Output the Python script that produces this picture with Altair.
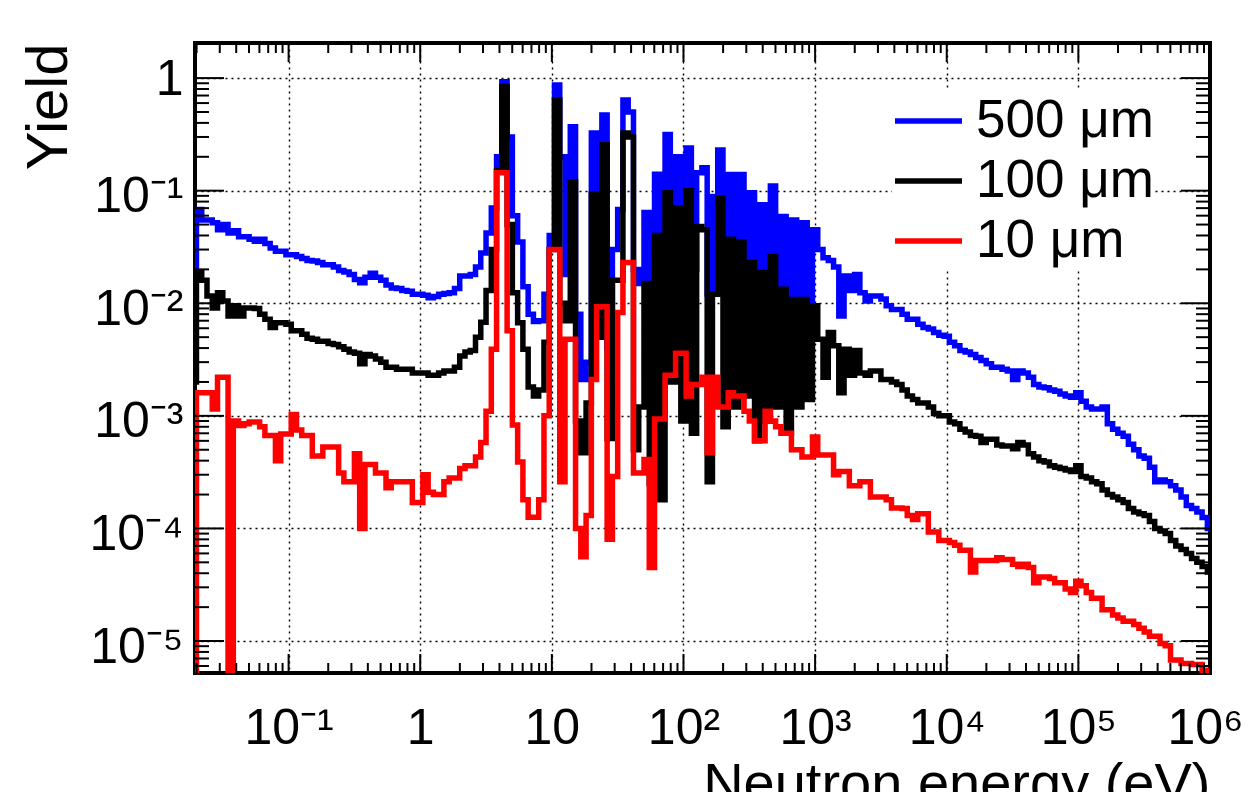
import json
import altair as alt
import pandas as pd

FONT = "Liberation Sans"

# ---- histogram binning (log10 of neutron energy in eV) ----
LOG10_E_FIRST_EDGE = -1.70
LOG10_E_BIN_WIDTH = 0.04
EMPTY = 1e-9  # empty bin, drawn down to the floor

# ---- axis ranges ----
X_MIN, X_MAX = 0.01945, 1e6
Y_MIN, Y_MAX = 5.2e-6, 2.05

series_names = ["500 μm", "100 μm", "10 μm"]
series_colors = ["#0000ff", "#000000", "#ff0000"]

# yield per bin (193 bins)
yield_500um = [
    0.068, 0.055, 0.055, 0.052, 0.045, 0.05, 0.042, 0.044, 0.039, 0.039,
    0.037, 0.0356, 0.037, 0.034, 0.031, 0.029, 0.029, 0.027, 0.027, 0.026,
    0.025, 0.024, 0.0237, 0.023, 0.022, 0.022, 0.021, 0.0195, 0.019, 0.018,
    0.0163, 0.0152, 0.017, 0.0185, 0.017, 0.016, 0.0145, 0.0137, 0.0135, 0.013,
    0.0128, 0.012, 0.012, 0.0118, 0.0112, 0.0115, 0.012, 0.0122, 0.0124, 0.0135,
    0.0175, 0.0175, 0.018, 0.021, 0.028, 0.042, 0.07, 0.2, 0.93, 0.3,
    0.06, 0.035, 0.014, 0.008, 0.0069, 0.007, 0.012, 0.04, 0.87, 0.2,
    0.018, 0.37, 0.008, 0.0021, 0.003, 0.325, 0.03, 0.47, 0.004, 0.03,
    0.068, 0.64, 0.5, 0.02, 0.015, 0.064, 0.005, 0.14, 0.009, 0.315,
    0.04, 0.2, 0.02, 0.24, 0.02, 0.144, 0.16, 0.012, 0.089, 0.23,
    0.015, 0.139, 0.02, 0.139, 0.015, 0.096, 0.012, 0.075, 0.012, 0.11,
    0.01, 0.059, 0.009, 0.055, 0.008, 0.052, 0.008, 0.045, 0.03, 0.0254,
    0.024, 0.021, 0.0077, 0.0175, 0.013, 0.018, 0.0124, 0.0105, 0.0116, 0.0116,
    0.0109, 0.0095, 0.0088, 0.0088, 0.008, 0.0072, 0.0072, 0.0065, 0.0061, 0.0059,
    0.0055, 0.0052, 0.0051, 0.0045, 0.0042, 0.0038, 0.0037, 0.0035, 0.0033, 0.0031,
    0.0029, 0.0027, 0.0027, 0.0026, 0.0025, 0.0021, 0.0025, 0.0024, 0.0022, 0.0019,
    0.0018, 0.00178, 0.0017, 0.00165, 0.00156, 0.0015, 0.00146, 0.0016, 0.00135, 0.0012,
    0.00115, 0.00115, 0.0012, 0.00085, 0.00076, 0.0007, 0.00066, 0.00056, 0.0005, 0.00044,
    0.00042, 0.00035, 0.00026, 0.00027, 0.00026, 0.00024, 0.00022, 0.00019, 0.00016, 0.00015,
    0.00014, 0.000125, 0.0001,
]

yield_100um = [
    0.019, 0.016, 0.0116, 0.0091, 0.0124, 0.0105, 0.0077, 0.0095, 0.0077, 0.0091,
    0.0091, 0.009, 0.008, 0.0072, 0.0061, 0.0067, 0.0067, 0.0065, 0.0057, 0.0057,
    0.0053, 0.0049, 0.0048, 0.0046, 0.0046, 0.0044, 0.0043, 0.0041, 0.0039, 0.0037,
    0.0036, 0.0029, 0.0035, 0.0034, 0.0032, 0.003, 0.0027, 0.0027, 0.0026, 0.0026,
    0.0026, 0.0024, 0.0024, 0.0024, 0.0023, 0.0023, 0.0024, 0.0025, 0.0025, 0.0027,
    0.0034, 0.0037, 0.0038, 0.005, 0.0068, 0.013, 0.03, 0.15, 0.84, 0.05,
    0.0124, 0.0067, 0.0039, 0.0018, 0.0015, 0.0017, 0.0045, 0.03, 0.64, 0.01,
    0.007, 0.12, 0.0009, 0.00047, 0.0013, 0.093, 0.005, 0.256, 0.00063, 0.016,
    0.016, 0.325, 0.3, 0.0005, 0.0012, 0.015, 0.00025, 0.04, 0.00018, 0.096,
    0.002, 0.07, 0.0009, 0.1, 0.0007, 0.048, 0.045, 0.00026, 0.012, 0.086,
    0.0008, 0.037, 0.0012, 0.035, 0.0015, 0.023, 0.0006, 0.0188, 0.0009, 0.026,
    0.0012, 0.0133, 0.0007, 0.0108, 0.0012, 0.0108, 0.0014, 0.0095, 0.0048, 0.0022,
    0.0055, 0.0042, 0.0016, 0.0039, 0.0023, 0.0038, 0.0024, 0.0023, 0.0025, 0.0025,
    0.0021, 0.0021, 0.002, 0.0019, 0.0017, 0.0015, 0.0014, 0.0013, 0.0013, 0.0012,
    0.00105, 0.001, 0.001, 0.00088, 0.00085, 0.00076, 0.00072, 0.00067, 0.00066, 0.00058,
    0.00062, 0.00062, 0.00055, 0.00054, 0.00054, 0.00051, 0.00058, 0.00055, 0.00046, 0.00043,
    0.0004, 0.00039, 0.00036, 0.00035, 0.00034, 0.00033, 0.00032, 0.00036, 0.00029, 0.00028,
    0.00026, 0.00025, 0.00022, 0.0002, 0.00019, 0.00018, 0.00017, 0.00015, 0.00014, 0.000135,
    0.00013, 0.000115, 0.0001, 0.000095, 0.00009, 0.000078, 0.00007, 0.000065, 0.00006, 0.000054,
    0.00005, 0.000046, 0.000041,
]

yield_10um = [
    0.0016, 0.0016, 0.0016, 0.00115, 0.0022, 0.0022, EMPTY, 0.0009, 0.00082, 0.00085,
    0.00088, 0.00088, 0.0008, 0.00067, 0.00067, 0.0004, 0.00069, 0.00069, 0.00103, 0.00075,
    0.00067, 0.00067, 0.00044, 0.00044, 0.00053, 0.00053, 0.00053, 0.00031, 0.00026, 0.00026,
    0.00046, 0.0001, 0.00037, 0.00037, 0.00031, 0.00031, 0.00023, 0.00026, 0.00026, 0.00026,
    0.00026, 0.00017, 0.00017, 0.0003, 0.00021, 0.0002, 0.0002, 0.00026, 0.00028, 0.00028,
    0.00034, 0.00036, 0.00036, 0.00043, 0.00058, 0.0011, 0.0039, 0.144, 0.144, 0.0057,
    0.00083, 0.00039, 0.00018, 0.000126, 0.000126, 0.00018, 0.001, 0.03, 0.03, 0.00026,
    0.0048, 0.0048, 0.0001, 0.000056, 0.00013, 0.0021, 0.0093, 0.0093, 0.00008, 0.00029,
    0.0083, 0.023, 0.023, 0.00031, 0.00031, 0.00041, 0.000045, 0.00094, 0.00094, 0.0023,
    0.0023, 0.0036, 0.0036, 0.0015, 0.0019, 0.0019, 0.0022, 0.00047, 0.0022, 0.0012,
    0.0012, 0.0016, 0.0015, 0.0015, 0.0011, 0.0009, 0.0006, 0.0006, 0.0011, 0.0009,
    0.0008, 0.0007, 0.0007, 0.0005, 0.0005, 0.00043, 0.00043, 0.00065, 0.00045, 0.00045,
    0.00045, 0.0003, 0.00032, 0.00032, 0.00024, 0.00024, 0.00026, 0.00026, 0.00019, 0.00019,
    0.00019, 0.00018, 0.000152, 0.000152, 0.00015, 0.00013, 0.00012, 0.000135, 0.000135, 0.000093,
    0.000093, 0.000078, 0.000078, 0.000075, 0.000071, 0.000064, 0.000064, 0.000041, 0.000052, 0.000052,
    0.000052, 0.000052, 0.000055, 0.000053, 0.000053, 0.000048, 0.000046, 0.000048, 0.000045, 0.000033,
    0.000037, 0.000037, 0.000036, 0.000033, 0.000033, 0.000029, 0.000027, 0.000034, 0.000031, 0.000027,
    0.000024, 0.000024, 0.000019, 0.000019, 0.000017, 0.000016, 0.000015, 0.000015, 0.000014, 0.000013,
    0.000012, 0.000011, 0.000011, 0.0000095, 0.0000091, 0.0000068, 0.0000068, 0.0000063, 0.0000063, 0.0000062,
    0.0000062, 0.0000055, 0.0000052,
]

# content of the partly visible bin just left of the frame
yield_first_partial = [0.021, 0.002, EMPTY]

# ---- axis ticks and labels ----
x_tick_values = [0.1, 1, 10, 100, 1e3, 1e4, 1e5, 1e6]
x_tick_labels = ["10⁻¹", "1", "10", "10²", "10³", "10⁴", "10⁵", "10⁶"]
y_tick_values = [1e-5, 1e-4, 1e-3, 1e-2, 1e-1, 1]
y_tick_labels = ["10⁻⁵", "10⁻⁴", "10⁻³", "10⁻²", "10⁻¹", "1"]
x_minor_ticks = [m * 10.0 ** d for d in range(-2, 6) for m in range(2, 10)]
x_minor_ticks = [v for v in x_minor_ticks if X_MIN < v < X_MAX]
y_minor_ticks = [m * 10.0 ** d for d in range(-6, 1) for m in range(2, 10)]
y_minor_ticks = [v for v in y_minor_ticks if Y_MIN < v < 1.9]

W, H = 1015, 630
LINE_W = 5.5

# ---- table ----
rows = []
for name, first, vals in zip(series_names, yield_first_partial,
                             [yield_500um, yield_100um, yield_10um]):
    rows.append({"series": name, "E": 10 ** (LOG10_E_FIRST_EDGE - LOG10_E_BIN_WIDTH), "Y": first})
    for i, v in enumerate(vals):
        rows.append({"series": name, "E": 10 ** (LOG10_E_FIRST_EDGE + i * LOG10_E_BIN_WIDTH), "Y": v})
    rows.append({"series": name, "E": 10 ** (LOG10_E_FIRST_EDGE + len(vals) * LOG10_E_BIN_WIDTH),
                 "Y": vals[-1]})
df = pd.DataFrame(rows)

xscale = alt.Scale(type="log", domain=[X_MIN, X_MAX], nice=False)
yscale = alt.Scale(type="log", domain=[Y_MIN, Y_MAX], nice=False)

x_expr = json.dumps(x_tick_labels, ensure_ascii=False) + "[round(log(datum.value)/LN10)+1]"
y_expr = json.dumps(y_tick_labels, ensure_ascii=False) + "[round(log(datum.value)/LN10)+5]"

common_axis = dict(
    grid=True, gridColor="black", gridDash=[2, 4], gridWidth=1.4, gridOpacity=1,
    ticks=False, tickSize=0, domain=False,
    labelFont=FONT, labelColor="black", labelOverlap=False,
    titleFont=FONT, titleFontWeight="normal", titleColor="black",
)
xaxis = alt.Axis(
    values=x_tick_values, labelExpr=x_expr, labelFontSize=50, labelPadding=30,
    labelBaseline="top", labelFlush=False,
    labelOffset={"condition": {"test": "datum.value > 500000", "value": -5}, "value": 0},
    title="Neutron energy (eV)", titleFontSize=56, titleX=W, titleY=128,
    titleAlign="right", titleBaseline="alphabetic", titleAngle=0,
    **common_axis,
)
yaxis = alt.Axis(
    values=y_tick_values, labelExpr=y_expr, labelFontSize=50, labelPadding=12,
    labelAlign="right", labelBaseline="middle",
    labelOffset={"condition": {"test": "datum.value > 0.5", "value": 1}, "value": 6},
    title="Yield", titleFontSize=58, titleX=-129, titleY=0, titleAngle=270,
    titleAlign="right", titleBaseline="alphabetic",
    **common_axis,
)

color = alt.Color(
    "series:N",
    scale=alt.Scale(domain=series_names, range=series_colors),
    legend=alt.Legend(
        orient="none", legendX=697, legendY=48, title=None,
        symbolType="stroke", symbolSize=4489, symbolStrokeWidth=LINE_W,
        labelFont=FONT, labelFontSize=53, labelColor="black", labelOffset=11,
        labelLimit=0, rowPadding=0, padding=0, fillColor="white", clipHeight=60,
    ),
)

layers = []
for name in series_names:
    layers.append(
        alt.Chart(df).transform_filter(alt.datum.series == name)
        .mark_line(interpolate="step-after", strokeWidth=LINE_W, clip=True)
        .encode(
            x=alt.X("E:Q", scale=xscale, axis=xaxis),
            y=alt.Y("Y:Q", scale=yscale, axis=yaxis),
            color=color,
        )
    )


def xticks(values, y0, y1):
    return alt.Chart(pd.DataFrame({"E": values})).mark_rule(color="black", strokeWidth=2).encode(
        x=alt.X("E:Q", scale=xscale, axis=xaxis), y=alt.value(y0), y2=alt.value(y1))


def yticks(values, x0, x1):
    return alt.Chart(pd.DataFrame({"Y": values})).mark_rule(color="black", strokeWidth=2).encode(
        y=alt.Y("Y:Q", scale=yscale, axis=yaxis), x=alt.value(x0), x2=alt.value(x1))


XMAJ, XMIN_LEN, YMAJ, YMIN_LEN = 19, 10, 29, 14
layers += [
    xticks(x_tick_values, H, H - XMAJ),
    xticks(x_minor_ticks, H, H - XMIN_LEN),
    xticks(x_tick_values, 0, XMAJ),
    xticks(x_minor_ticks, 0, XMIN_LEN),
    yticks(y_tick_values, 0, YMAJ),
    yticks(y_minor_ticks, 0, YMIN_LEN),
    yticks(y_tick_values, W, W - YMAJ),
    yticks(y_minor_ticks, W, W - YMIN_LEN),
]

chart = alt.layer(*layers).properties(
    width=W, height=H,
    padding={"left": 187, "top": 35, "right": 34, "bottom": 119},
    autosize=alt.AutoSizeParams(type="none"),
).configure_view(stroke="black", strokeWidth=4)

chart.save("out.html", embed_options={"renderer": "svg", "actions": False})
